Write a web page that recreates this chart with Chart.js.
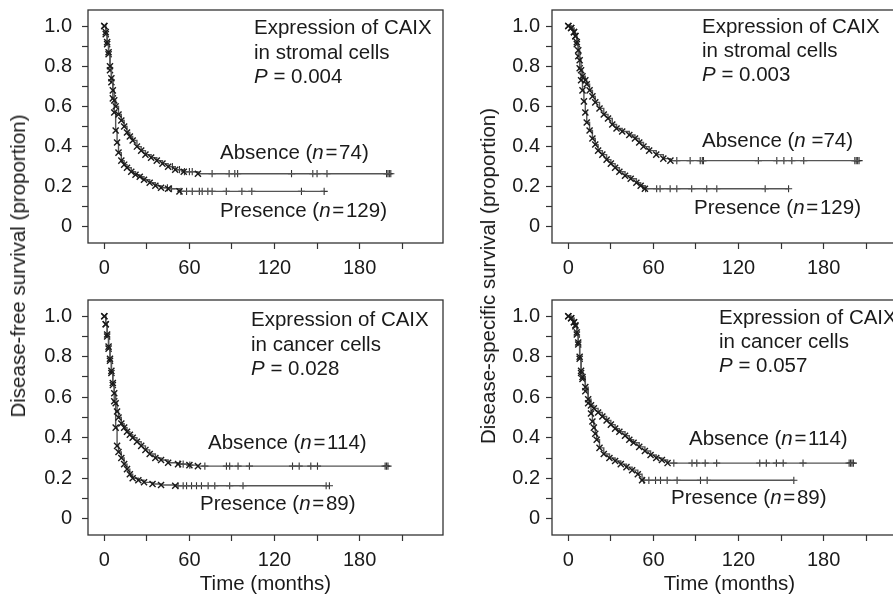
<!DOCTYPE html>
<html><head><meta charset="utf-8">
<script src="https://cdn.jsdelivr.net/npm/chart.js@4.4.1/dist/chart.umd.min.js"></script>
<style>
html,body{margin:0;padding:0;background:#fff;overflow:hidden;width:893px;height:599px;}
#wrap{position:relative;width:893px;height:599px;overflow:hidden;font-family:"Liberation Sans",Arial,sans-serif;color:#1a1a1a;}
canvas{position:absolute;}
.t{position:absolute;font-size:20.5px;line-height:24.5px;white-space:nowrap;}
.yt{position:absolute;font-size:20.5px;line-height:24px;white-space:nowrap;transform:translate(-50%,-50%) rotate(-90deg);}
</style></head><body>
<div id="wrap">
<canvas id="c1" width="450" height="290" style="left:0;top:0"></canvas>
<canvas id="c2" width="470" height="290" style="left:443px;top:0"></canvas>
<canvas id="c3" width="450" height="309" style="left:0;top:290px"></canvas>
<canvas id="c4" width="470" height="309" style="left:443px;top:290px"></canvas>

<div class="yt" style="left:18px;top:266px">Disease-free survival (proportion)</div>
<div class="yt" style="left:488px;top:276px">Disease-specific survival (proportion)</div>

<div class="t" style="left:254px;top:15px">Expression of CAIX<br>in stromal cells<br><i>P</i> = 0.004</div>
<div class="t" style="left:220px;top:140px">Absence (<i>n</i>&#8202;=&#8202;74)</div>
<div class="t" style="left:220px;top:198px">Presence (<i>n</i>&#8202;=&#8202;129)</div>

<div class="t" style="left:702px;top:14px;line-height:24px">Expression of CAIX<br>in stromal cells<br><i>P</i> = 0.003</div>
<div class="t" style="left:702px;top:128px">Absence (<i>n</i> =74)</div>
<div class="t" style="left:694px;top:195px">Presence (<i>n</i>&#8202;=&#8202;129)</div>

<div class="t" style="left:251px;top:307px">Expression of CAIX<br>in cancer cells<br><i>P</i> = 0.028</div>
<div class="t" style="left:208px;top:430px">Absence (<i>n</i>&#8202;=&#8202;114)</div>
<div class="t" style="left:200px;top:491px">Presence (<i>n</i>&#8202;=&#8202;89)</div>

<div class="t" style="left:719px;top:305px;line-height:24px">Expression of CAIX<br>in cancer cells<br><i>P</i> = 0.057</div>
<div class="t" style="left:689px;top:426px">Absence (<i>n</i>&#8202;=&#8202;114)</div>
<div class="t" style="left:671px;top:485px">Presence (<i>n</i>&#8202;=&#8202;89)</div>
</div>
<script>
// ---- Data (time in months, survival proportion) ----
const xTickLabels = [0, 60, 120, 180];

// Panel 1: disease-free survival, CAIX in stromal cells
const p1AbsT = [0,1,2,3,4,5,6,7,8,10,12,14,16,18,20,23,26,29,33,37,41,45,50,56,66];
const p1AbsS = [1.0,0.97,0.92,0.87,0.80,0.74,0.68,0.63,0.60,0.56,0.53,0.50,0.47,0.45,0.43,0.40,0.38,0.36,0.345,0.33,0.315,0.30,0.285,0.275,0.265];
const p1AbsC = [48,53,56.5,60,62,76,88,92,94,132,147,150,157,199,200,201,202];
const p1PreT = [0,1,2,3,4,5,6,7,8,9,10,12,14,16,19,22,25,28,32,36,40,45,53];
const p1PreS = [1.0,0.96,0.91,0.86,0.78,0.72,0.64,0.57,0.48,0.42,0.37,0.33,0.31,0.295,0.275,0.26,0.25,0.235,0.22,0.205,0.195,0.19,0.177];
const p1PreC = [44.5,47.4,54,58,62,67,69,73,76,86,97,104,139,155];

// Panel 2: disease-specific survival, CAIX in stromal cells
const p2AbsT = [0,2,4,5,6,7,8,9,10,12,13,15,17,19,22,25,28,31,34,38,43,47,50,53,57,62,67,72];
const p2AbsS = [1.0,0.99,0.97,0.95,0.92,0.88,0.83,0.78,0.75,0.73,0.71,0.68,0.65,0.62,0.59,0.56,0.54,0.51,0.49,0.475,0.458,0.44,0.42,0.40,0.38,0.36,0.34,0.33];
const p2AbsC = [76.5,85.9,93,94.5,95.3,134,147,152,157.6,166,202,203,204,205];
const p2PreT = [0,2,4,5,6,7,8,9,10,11,12,13,15,17,19,21,24,27,30,33,36,40,44,48,51,54];
const p2PreS = [1.0,0.99,0.97,0.95,0.91,0.85,0.79,0.73,0.68,0.625,0.57,0.52,0.48,0.44,0.41,0.38,0.36,0.335,0.315,0.295,0.275,0.255,0.24,0.22,0.205,0.19];
const p2PreC = [54.5,62.3,64.7,71.8,76.5,87,97.6,104.7,138.8,155.3];

// Panel 3: disease-free survival, CAIX in cancer cells
const p3AbsT = [0,1,2,3,4,5,6,7,8,9,10,12,14,16,18,20,23,26,29,32,36,40,45,52,60,66];
const p3AbsS = [1.0,0.96,0.91,0.85,0.79,0.73,0.67,0.62,0.57,0.53,0.50,0.47,0.45,0.43,0.415,0.40,0.38,0.36,0.34,0.32,0.30,0.29,0.277,0.27,0.265,0.26];
const p3AbsC = [53.2,55.6,60.3,70.9,86.1,88.4,94.3,102.3,132.7,137.4,145.6,150.3,198,199,200];
const p3PreT = [0,1,2,3,4,5,6,7,8,9,10,12,14,16,18,20,24,28,34,40,50];
const p3PreS = [1.0,0.96,0.90,0.84,0.78,0.72,0.66,0.58,0.45,0.36,0.33,0.30,0.27,0.245,0.22,0.20,0.19,0.18,0.172,0.167,0.163];
const p3PreC = [52,55.6,58,61.5,65,68.5,73.2,77.9,88.4,97.8,156.4,158.7];

// Panel 4: disease-specific survival, CAIX in cancer cells
const p4AbsT = [0,2,4,5,6,7,8,9,10,12,14,16,18,21,24,27,30,33,36,40,43,46,50,54,58,62,66,70];
const p4AbsS = [1.0,0.99,0.97,0.955,0.92,0.87,0.80,0.73,0.70,0.65,0.59,0.56,0.545,0.525,0.505,0.485,0.465,0.445,0.43,0.41,0.39,0.375,0.355,0.335,0.315,0.30,0.29,0.275];
const p4AbsC = [74.4,87.2,90.6,96.5,104.6,135,139.6,146.7,151.5,165.5,198,199,200,201];
const p4PreT = [0,2,4,5,6,7,8,9,10,12,14,16,17,18,19,20,22,25,29,33,37,41,45,49,52];
const p4PreS = [1.0,0.99,0.97,0.95,0.91,0.86,0.79,0.72,0.69,0.63,0.57,0.52,0.48,0.45,0.42,0.39,0.35,0.32,0.30,0.285,0.27,0.255,0.24,0.22,0.19];
const p4PreC = [53.3,56.8,61.5,65,69.7,76.7,93.2,97.9,159];

// ---- helpers ----
const FONT = '"Liberation Sans", Arial, sans-serif';
const INK = '#1a1a1a';
function survAt(T, S, t) { let v = S[0]; for (let i = 0; i < T.length; i++) if (T[i] <= t) v = S[i]; return v; }
function curveSets(T, S, C) {
  const end = Math.max(...C, T[T.length - 1]);
  const pts = T.map((t, i) => ({x: t, y: S[i]}));
  pts.push({x: end, y: S[S.length - 1]});
  const n = T.length;
  return [
    { data: pts, showLine: true, stepped: 'before', borderColor: '#555', borderWidth: 1.4,
      pointStyle: 'crossRot', pointRadius: ctx => ctx.dataIndex < n ? 4.3 : 0,
      pointBorderColor: '#1a1a1a', pointBorderWidth: 1.4, pointBackgroundColor: '#1a1a1a' },
    { data: C.map(t => ({x: t, y: survAt(T, S, t)})), showLine: false,
      pointStyle: 'cross', pointRadius: 3.6, pointBorderColor: '#333', pointBorderWidth: 1.1 }
  ];
}
const boxPlugin = { id: 'box', afterDraw(chart) {
  const {ctx, chartArea: a} = chart;
  ctx.save(); ctx.strokeStyle = '#333'; ctx.lineWidth = 1.3;
  ctx.strokeRect(a.left, a.top, a.right - a.left, a.bottom - a.top); ctx.restore();
}};

function makePanel(id, c) {
  new Chart(document.getElementById(id), {
    type: 'scatter',
    data: { datasets: [...curveSets(c.aT, c.aS, c.aC), ...curveSets(c.pT, c.pS, c.pC)] },
    options: {
      responsive: false, animation: false, devicePixelRatio: 1,
      layout: { padding: { top: 10, right: c.padRight, left: 0, bottom: 0 } },
      plugins: { legend: { display: false }, tooltip: { enabled: false } },
      scales: {
        x: {
          type: 'linear', min: -11.5, max: 238.8,
          ticks: { stepSize: 30, includeBounds: false, autoSkip: false, maxRotation: 0,
            callback: v => xTickLabels.includes(v) ? String(v) : '',
            font: { family: FONT, size: 20 }, color: INK, padding: 7 },
          grid: { drawOnChartArea: false, drawTicks: true, tickLength: 6, tickColor: '#333', tickWidth: 1.2 },
          border: { display: false },
          title: c.xTitle ? { display: true, text: 'Time (months)', font: { family: FONT, size: 20.5 }, color: INK, padding: { top: 0, bottom: 2 } } : { display: false },
          afterFit: s => { s.height = c.xH; s.paddingLeft = 0; s.paddingRight = 0; }
        },
        y: {
          type: 'linear', min: -0.08, max: 1.08,
          ticks: { stepSize: 0.1, includeBounds: false, autoSkip: false,
            callback: v => (Math.round(v * 10) % 2 === 0) ? (Math.abs(v) < 1e-9 ? '0' : v.toFixed(1)) : '',
            font: { family: FONT, size: 20 }, color: INK, padding: c.yPad },
          grid: { drawOnChartArea: false, drawTicks: true, tickLength: 6, tickColor: '#333', tickWidth: 1.2 },
          border: { display: false },
          afterFit: s => { s.width = c.yW; s.paddingTop = 0; s.paddingBottom = 0; }
        }
      }
    },
    plugins: [boxPlugin]
  });
}

makePanel('c1', { aT: p1AbsT, aS: p1AbsS, aC: p1AbsC, pT: p1PreT, pS: p1PreS, pC: p1PreC, yW: 88, yPad: 10, xH: 47, padRight: 7, xTitle: false });
makePanel('c2', { aT: p2AbsT, aS: p2AbsS, aC: p2AbsC, pT: p2PreT, pS: p2PreS, pC: p2PreC, yW: 109, yPad: 6, xH: 47, padRight: 6, xTitle: false });
makePanel('c3', { aT: p3AbsT, aS: p3AbsS, aC: p3AbsC, pT: p3PreT, pS: p3PreS, pC: p3PreC, yW: 88, yPad: 10, xH: 64, padRight: 7, xTitle: true });
makePanel('c4', { aT: p4AbsT, aS: p4AbsS, aC: p4AbsC, pT: p4PreT, pS: p4PreS, pC: p4PreC, yW: 109, yPad: 6, xH: 64, padRight: 6, xTitle: true });
</script>
</body></html>
